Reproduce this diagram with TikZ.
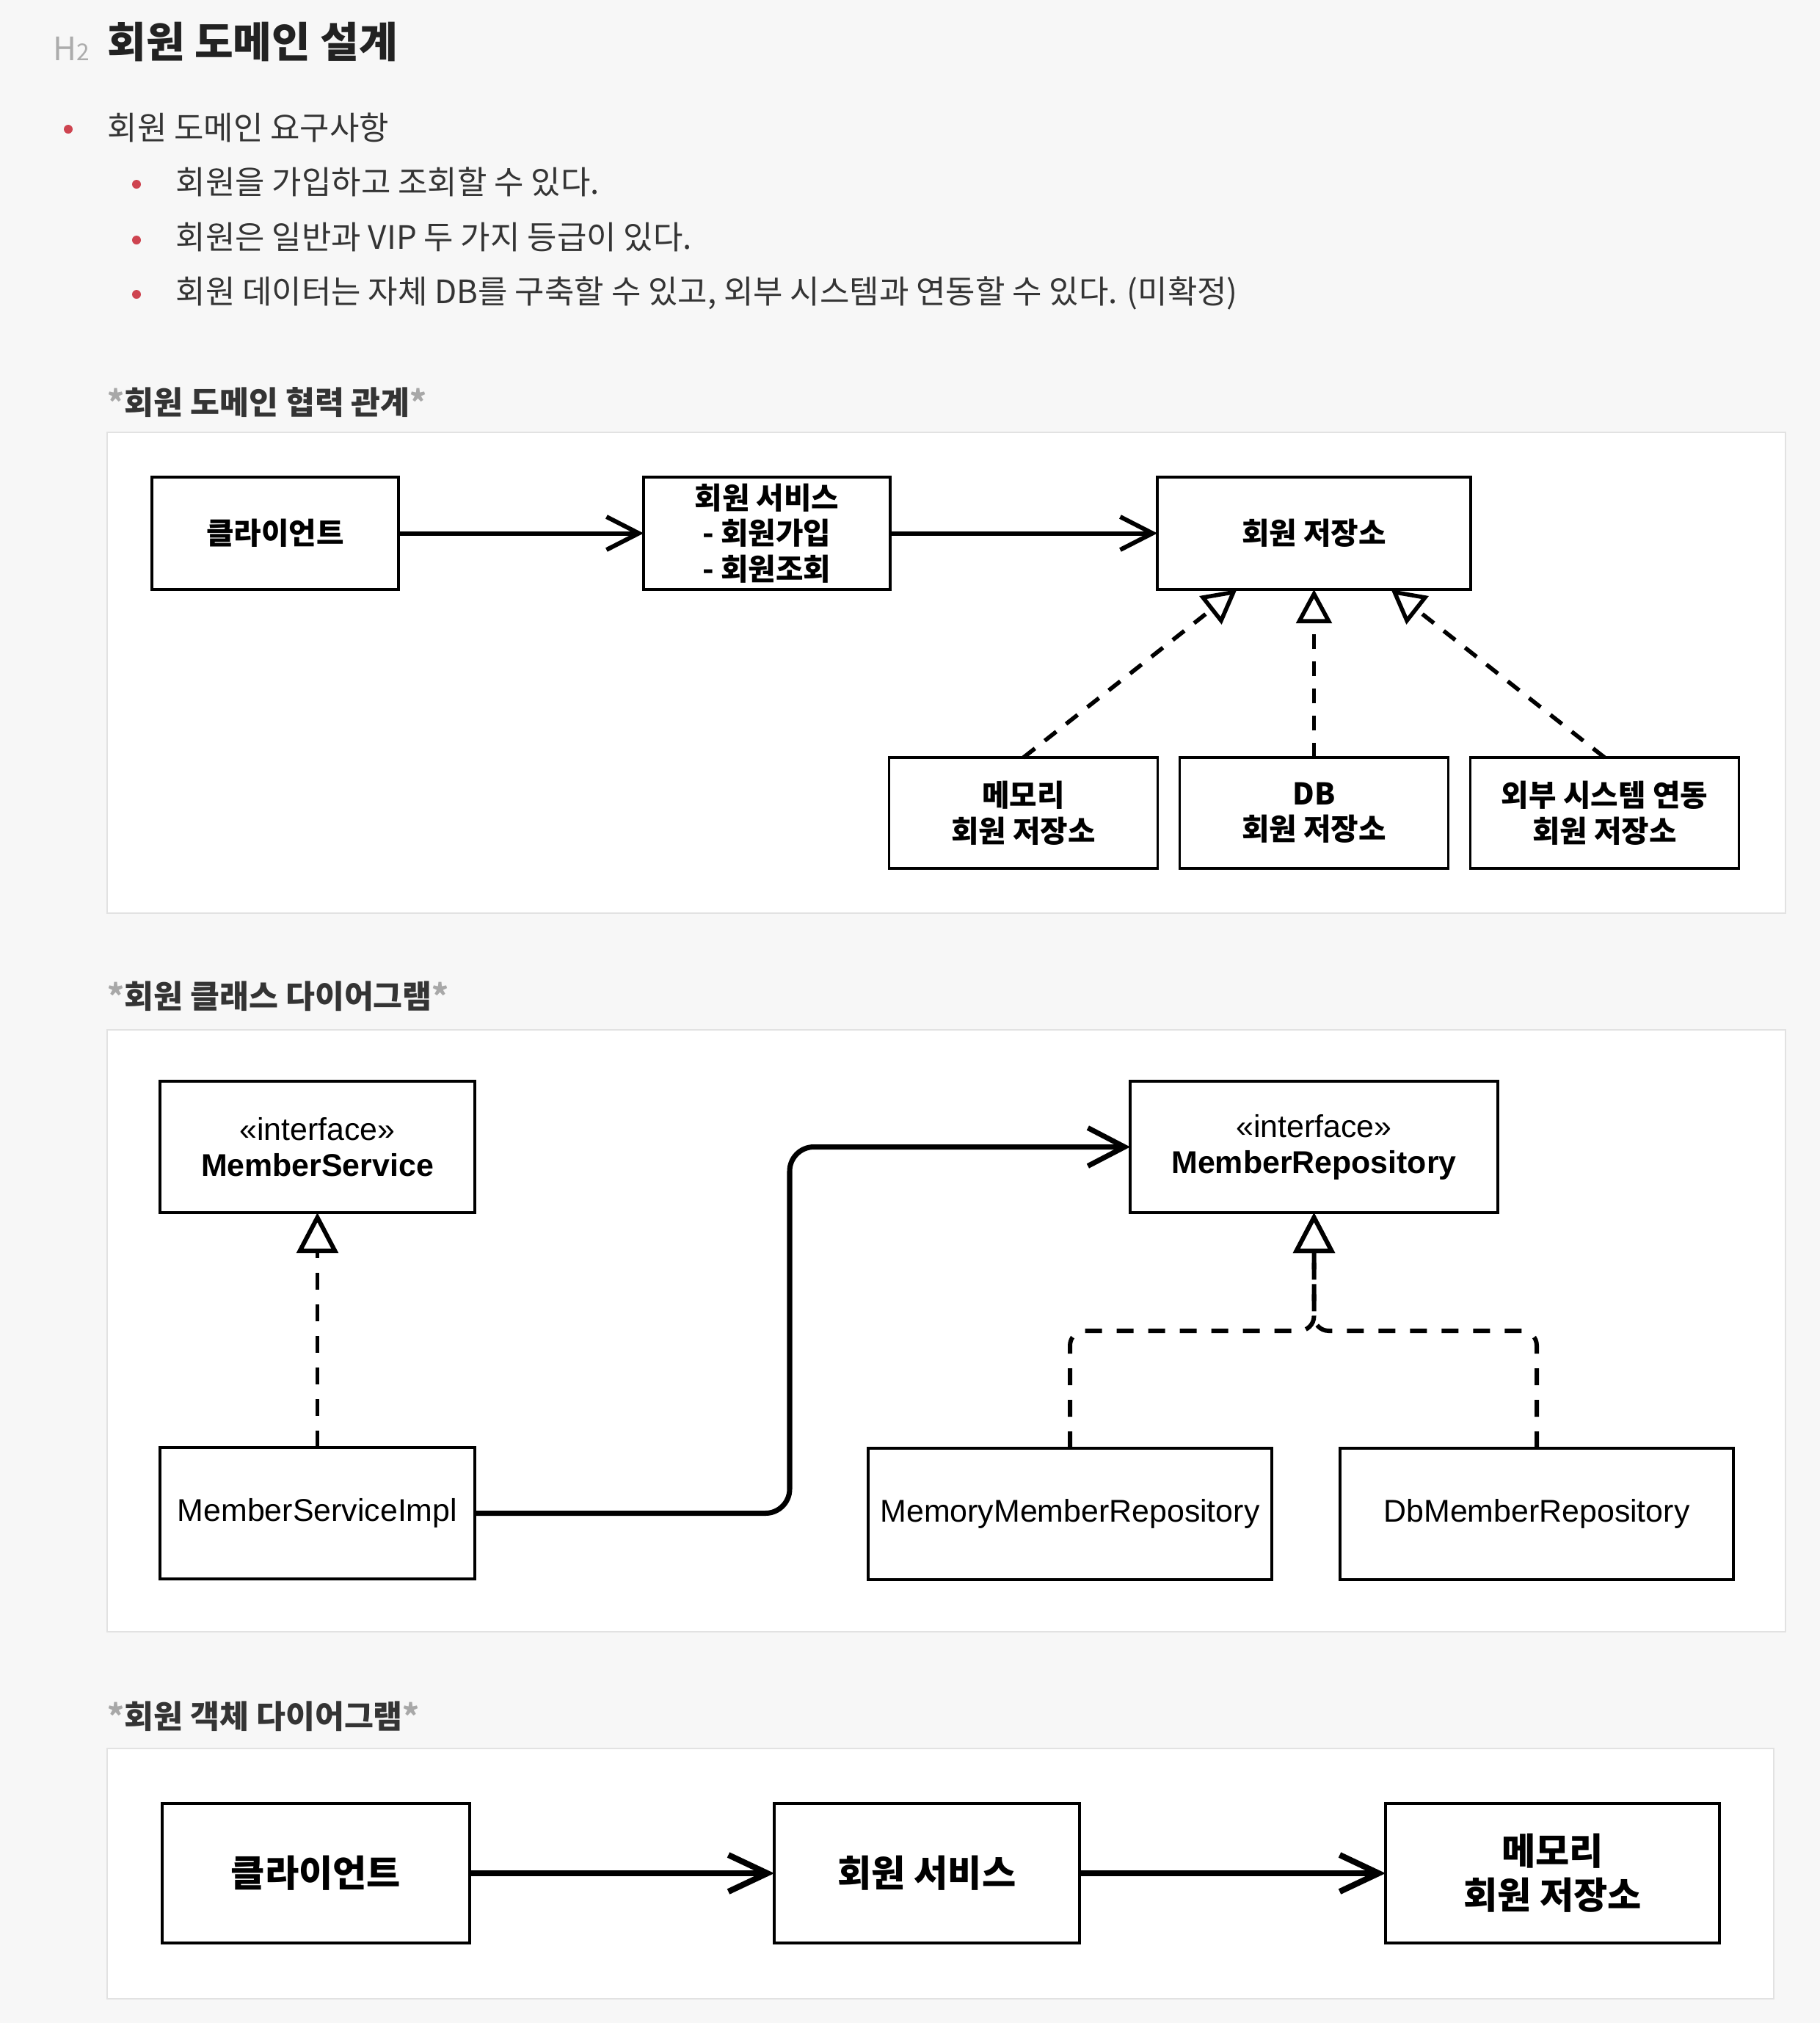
\documentclass[tikz,border=0pt]{standalone}
\usepackage{fontspec}
\setmainfont{Noto Sans CJK KR}
\newfontfamily\umlfont{Liberation Sans}
\usetikzlibrary{positioning, arrows.meta}
\definecolor{pagebg}{RGB}{247,247,247}
\definecolor{panelline}{RGB}{226,226,226}
\definecolor{headdark}{RGB}{34,34,34}
\definecolor{itemdark}{RGB}{52,52,52}
\definecolor{bulletred}{RGB}{206,68,80}
\definecolor{stargray}{RGB}{168,168,168}
\definecolor{hgray}{RGB}{172,172,172}
\newcommand{\capstar}{\textcolor{stargray}{*}}

\begin{document}
\begin{tikzpicture}[
  panel/.style={draw=panelline, line width=0.7pt, fill=white},
  item/.style={anchor=west, inner sep=0pt, text=itemdark,
               font=\fontsize{12.5}{15}\selectfont},
  capt/.style={anchor=west, inner sep=0pt, text=itemdark,
               font=\fontsize{12.35}{15}\selectfont\bfseries},
  box/.style={draw, line width=1.1pt, inner sep=0pt, outer sep=0pt,
              align=center, text=black},
  box1/.style={box, minimum height=1.53cm,
               font=\fontsize{11.6}{13.8}\selectfont\bfseries},
  box2/.style={box, minimum height=1.79cm,
               font=\umlfont\fontsize{12.2}{14}\selectfont},
  box3/.style={box, line width=1.3pt, minimum height=1.9cm,
               font=\fontsize{14.3}{17}\selectfont\bfseries},
  flow1/.style={-{Straight Barb[length=4.4mm, width=4.5mm]}, line width=1.7pt},
  flow2/.style={-{Straight Barb[length=5mm, width=5.2mm]}, line width=2pt,
                rounded corners=0.33cm},
  flow3/.style={-{Straight Barb[length=5.3mm, width=5mm]}, line width=2.3pt},
  real1/.style={-{Triangle[fill=white, length=4.6mm, width=4.8mm]},
                line width=1.6pt, dash pattern=on 0.2cm off 0.17cm},
  real2/.style={-{Triangle[fill=white, length=5.5mm, width=5.6mm]},
                line width=1.7pt, dash pattern=on 0.23cm off 0.2cm}
]
\useasboundingbox (0,0) rectangle (24.8,-27.56);
\fill[pagebg] (0,0) rectangle (24.8,-27.56);

\node[anchor=west, inner sep=0pt, text=hgray, font=\fontsize{12.5}{13}\selectfont]
  (htag) at (0.72,-0.66) {H{\fontsize{9}{9}\selectfont 2}};
\node[anchor=west, inner sep=0pt, text=headdark, font=\fontsize{16.3}{19}\selectfont\bfseries]
  (title) at (1.46,-0.57) {회원 도메인 설계};

\fill[bulletred] (0.93,-1.76) circle (0.06);
\node[item] (req)  at (1.46,-1.74) {회원 도메인 요구사항};
\fill[bulletred] (1.86,-2.51) circle (0.06);
\node[item] (req1) at (2.39,-2.48) {회원을 가입하고 조회할 수 있다.};
\fill[bulletred] (1.86,-3.27) circle (0.06);
\node[item] (req2) at (2.39,-3.23) {회원은 일반과 VIP 두 가지 등급이 있다.};
\fill[bulletred] (1.86,-4.01) circle (0.06);
\node[item] (req3) at (2.39,-3.99) {회원 데이터는 자체 DB를 구축할 수 있고, 외부 시스템과 연동할 수 있다. (미확정)};

\node[capt] (cap1) at (1.46,-5.48) {\capstar 회원 도메인 협력 관계\capstar};
\draw[panel] (1.46,-5.89) rectangle (24.33,-12.44);

\node[box1, minimum width=3.36cm] (client1) at (3.75,-7.265) {클라이언트};
\node[box1, minimum width=3.36cm, right=3.34cm of client1]
  (service1) {회원 서비스\\- 회원가입\\- 회원조회};
\node[box1, minimum width=4.27cm, right=3.64cm of service1] (store1) {회원 저장소};
\node[box1, minimum width=3.66cm, minimum height=1.51cm, below=2.29cm of store1]
  (db1) {DB\\회원 저장소};
\node[box1, minimum width=3.66cm, minimum height=1.51cm, left=0.3cm of db1]
  (memory1) {메모리\\회원 저장소};
\node[box1, minimum width=3.66cm, minimum height=1.51cm, right=0.3cm of db1]
  (extern1) {외부 시스템 연동\\회원 저장소};
\draw[flow1] (client1) -- (service1);
\draw[flow1] (service1) -- (store1);
\draw[real1] (memory1.north) -- ([xshift=-1.05cm]store1.south);
\draw[real1] (db1) -- (store1);
\draw[real1] (extern1.north) -- ([xshift=1.05cm]store1.south);

\node[capt] (cap2) at (1.46,-13.57) {\capstar 회원 클래스 다이어그램\capstar};
\draw[panel] (1.46,-14.03) rectangle (24.33,-22.23);

\node[box2, minimum width=4.29cm] (msvc) at (4.325,-15.625)
  {«interface»\\\textbf{MemberService}};
\node[box2, minimum width=4.29cm, below=3.2cm of msvc] (mimpl) {MemberServiceImpl};
\node[box2, minimum width=5.01cm] (mrepo) at (17.905,-15.625)
  {«interface»\\\textbf{MemberRepository}};
\node[box2, minimum width=5.5cm] (memrepo) at (14.58,-20.625) {MemoryMemberRepository};
\node[box2, minimum width=5.36cm, right=0.93cm of memrepo] (dbrepo) {DbMemberRepository};
\coordinate (elbow) at (10.76,-15.625);
\coordinate (split) at (17.905,-18.13);
\draw[real2] (mimpl) -- (msvc);
\draw[flow2] (mimpl.east) -| (elbow) -- (mrepo.west);
\draw[real2, rounded corners=0.2cm] (memrepo.north) |- (split) -- (mrepo.south);
\draw[real2, rounded corners=0.2cm] (dbrepo.north) |- (split) -- (mrepo.south);

\node[capt] (cap3) at (1.46,-23.38) {\capstar 회원 객체 다이어그램\capstar};
\draw[panel] (1.46,-23.82) rectangle (24.17,-27.23);

\node[box3, minimum width=4.19cm] (client3) at (4.305,-25.52) {클라이언트};
\node[box3, minimum width=4.16cm, right=4.15cm of client3] (service3) {회원 서비스};
\node[box3, minimum width=4.55cm, right=4.17cm of service3] (memory3) {메모리\\회원 저장소};
\draw[flow3] (client3) -- (service3);
\draw[flow3] (service3) -- (memory3);
\end{tikzpicture}
\end{document}
